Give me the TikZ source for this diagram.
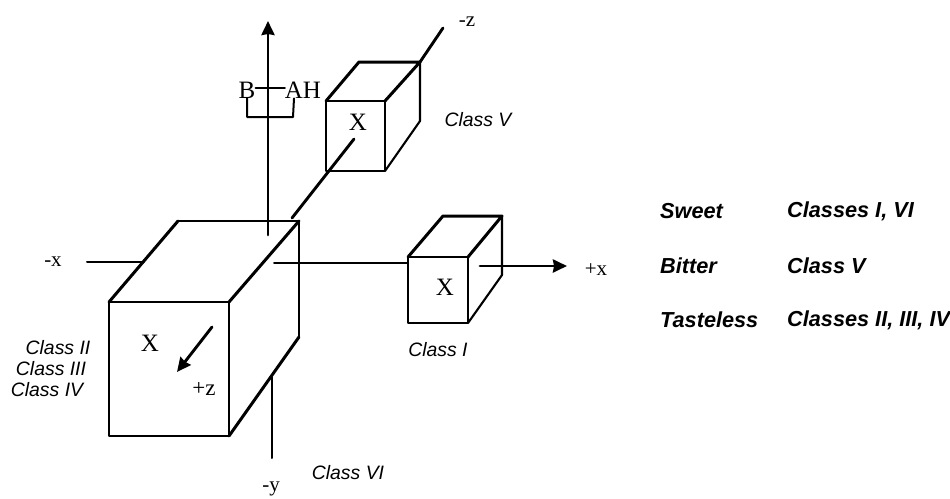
\documentclass[tikz,border=0pt]{standalone}
\usepackage{fontspec}
\setmainfont{Liberation Serif}
\newfontfamily\labelfont{Liberation Sans}
\usetikzlibrary{arrows.meta}
\tikzset{
	treat_line/.style = {
		line width=2pt,
		line cap=round,
		line join=round
	},
	cube_edge/.style = {
		treat_line,
		line width=3pt
	},
	cube_face/.style = {
		treat_line,
		line width=2.6pt
	},
	cube_thin/.style = {
		treat_line,
		line width=2.1pt
	},
	axis_line/.style = {
		treat_line,
		line width=2pt
	},
	axis_thick/.style = {
		treat_line,
		line width=2.9pt
	},
	axis_arrow/.style = {
		axis_thick,
		-{Stealth[length=14pt,width=13pt,inset=1pt]}
	},
	class_label/.style = {
		inner sep=0pt,
		font=\labelfont\itshape\fontsize{19.4}{23}\selectfont
	},
	table_label/.style = {
		inner sep=0pt,
		anchor=west,
		font=\labelfont\bfseries\itshape\fontsize{21.7}{26}\selectfont
	},
	axis_label/.style = {
		inner sep=0pt,
		font=\fontsize{21}{25}\selectfont
	},
	group_label/.style = {
		inner sep=0pt,
		font=\fontsize{25}{30}\selectfont
	},
}

\begin{document}
\begin{tikzpicture}[x=1pt,y=-1pt]
\useasboundingbox (0,0) rectangle (950,498);

% axes
\coordinate (y_top) at (268,21);
\coordinate (y_low) at (268,235);
\coordinate (y_down) at (272,377);
\coordinate (y_end) at (272,458);
\coordinate (x_start) at (87,262);
\coordinate (x_in) at (144,262);
\coordinate (x_mid) at (274,263);
\coordinate (x_one) at (408,263);
\coordinate (x_out) at (480,266);
\coordinate (x_tip) at (567,266);
\coordinate (z_end) at (443,28);
\coordinate (z_back) at (420,62);
\coordinate (z_in) at (354,139);
\coordinate (z_front) at (292,218);
\coordinate (z_from) at (212,327);
\coordinate (z_tip) at (177,372);
\draw [axis_arrow] (y_low) -- (y_top);
\draw [axis_line] (x_start) -- (x_in);
\draw [axis_line] (x_mid) -- (x_one);
\draw [axis_arrow] (x_out) -- (x_tip);
\draw [axis_line] (y_down) -- (y_end);
\draw [axis_thick] (z_back) -- (z_end);
\draw [axis_thick] (z_in) -- (z_front);
\draw [axis_arrow] (z_from) -- (z_tip);

% large cube
\coordinate (big_a) at (109,302);
\coordinate (big_b) at (229,302);
\coordinate (big_c) at (229,436);
\coordinate (big_d) at (109,436);
\coordinate (big_e) at (178,221);
\coordinate (big_f) at (299,221);
\coordinate (big_g) at (299,337);
\draw [cube_face] (big_a) -- (big_b) -- (big_c) -- (big_d) -- cycle;
\draw [cube_edge] (big_a) -- (big_e);
\draw [cube_thin] (big_e) -- (big_f);
\draw [cube_edge] (big_f) -- (big_b);
\draw [cube_thin] (big_f) -- (big_g);
\draw [cube_edge] (big_g) -- (big_c);

% cube of class V
\coordinate (back_a) at (326,101);
\coordinate (back_b) at (385,101);
\coordinate (back_c) at (385,171);
\coordinate (back_d) at (326,171);
\coordinate (back_e) at (359,62);
\coordinate (back_f) at (420,62);
\coordinate (back_g) at (420,121);
\draw [cube_face] (back_a) -- (back_b) -- (back_c) -- (back_d) -- cycle;
\draw [cube_edge] (back_a) -- (back_e) -- (back_f) -- (back_b);
\draw [cube_thin] (back_f) -- (back_g) -- (back_c);

% cube of class I
\coordinate (side_a) at (408,257);
\coordinate (side_b) at (468,257);
\coordinate (side_c) at (468,323);
\coordinate (side_d) at (408,323);
\coordinate (side_e) at (443,216);
\coordinate (side_f) at (502,216);
\coordinate (side_g) at (502,275);
\draw [cube_face] (side_a) -- (side_b) -- (side_c) -- (side_d) -- cycle;
\draw [cube_edge] (side_a) -- (side_e) -- (side_f) -- (side_b);
\draw [cube_thin] (side_f) -- (side_g) -- (side_c);

% sites on the y axis
\node [group_label] (site_b) at (247,90) {B};
\node [group_label] (site_a) at (294,90) {A};
\node [group_label] (site_h) at (312,90) {H};
\coordinate (bracket_l) at (247,117);
\coordinate (bracket_r) at (293,117);
\draw [axis_line] ([yshift=2pt]site_b.east) -- ([yshift=2pt]site_a.west);
\draw [axis_line] (site_b.south) -- (bracket_l) -- (bracket_r) -- (site_a.south);

% labels
\node [group_label] (x_big) at (150,343) {X};
\node [group_label] (x_back) at (358,122) {X};
\node [group_label] (x_side) at (445,287) {X};
\node [axis_label, font=\fontsize{23}{27}\selectfont] (plus_z) at (204,389) {+z};
\node [axis_label] (minus_z) at (467,22) {-z};
\node [axis_label] (minus_x) at (53,262) {-x};
\node [axis_label] (plus_x) at (596,270) {+x};
\node [axis_label] (minus_y) at (271,489) {-y};
\node [class_label] (class_v) at (478,120) {Class V};
\node [class_label] (class_i) at (438,350) {Class I};
\node [class_label] (class_vi) at (348,473) {Class VI};
\node [class_label] (class_ii) at (58,348) {Class II};
\node [class_label] (class_iii) at (51,369) {Class III};
\node [class_label] (class_iv) at (47,390) {Class IV};
\node [table_label] (sweet) at (660,211) {Sweet};
\node [table_label] (bitter) at (660,266) {Bitter};
\node [table_label] (tasteless) at (660,320) {Tasteless};
\node [table_label] (sweet_cl) at (787,211) {Classes I, VI};
\node [table_label] (bitter_cl) at (787,266) {Class V};
\node [table_label] (tasteless_cl) at (787,320) {Classes II, III, IV};
\end{tikzpicture}
\end{document}
